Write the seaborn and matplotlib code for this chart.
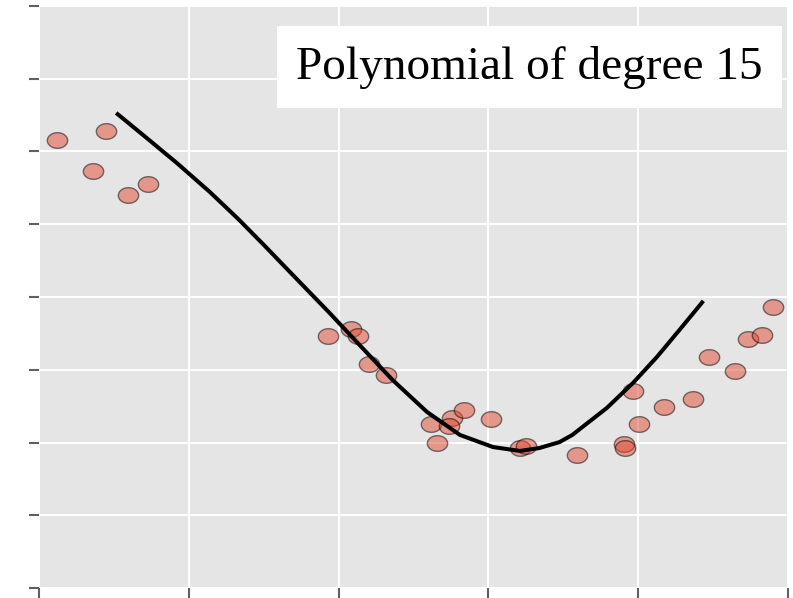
import numpy as np
import matplotlib
matplotlib.use("Agg")
import matplotlib.pyplot as plt
from matplotlib.path import Path
import seaborn as sns

# sample points
x_pts = [0.024, 0.072, 0.089, 0.119, 0.145, 0.386, 0.416, 0.426, 0.440, 0.463,
         0.523, 0.531, 0.551, 0.547, 0.568, 0.603, 0.642, 0.650, 0.718, 0.781,
         0.782, 0.793, 0.801, 0.834, 0.873, 0.894, 0.929, 0.946, 0.965, 0.980]
y_pts = [1.079, 0.866, 1.141, 0.701, 0.777, -0.268, -0.220, -0.268, -0.460, -0.536,
         -0.873, -1.003, -0.832, -0.887, -0.777, -0.838, -1.038, -1.024, -1.086, -1.010,
         -1.038, -0.646, -0.873, -0.756, -0.701, -0.412, -0.509, -0.289, -0.261, -0.069]

# fitted model curve
x_fit = [0.103, 0.139, 0.184, 0.228, 0.266, 0.299, 0.344, 0.388, 0.428, 0.472,
         0.518, 0.562, 0.606, 0.642, 0.668, 0.695, 0.712, 0.758, 0.793, 0.825,
         0.855, 0.887]
y_fit = [1.265, 1.113, 0.921, 0.722, 0.536, 0.364, 0.124, -0.110, -0.330, -0.570,
         -0.790, -0.948, -1.031, -1.058, -1.038, -0.997, -0.948, -0.763, -0.591, -0.412,
         -0.227, -0.027]

label = "Polynomial of degree 15"

sns.set_theme(style="darkgrid", rc={
    "axes.facecolor": "#E5E5E5",
    "grid.color": "white",
    "grid.linewidth": 1.4,
    "xtick.bottom": True,
    "ytick.left": True,
    "xtick.direction": "out",
    "ytick.direction": "out",
    "xtick.color": "#606060",
    "ytick.color": "#606060",
    "xtick.major.size": 7,
    "ytick.major.size": 7,
    "xtick.major.width": 1.5,
    "ytick.major.width": 1.5,
})
plt.rcParams["font.family"] = ["Liberation Serif", "DejaVu Serif"]

fig = plt.figure(figsize=(7.93, 5.98), dpi=100)
ax = fig.add_axes([0.0492, 0.0167, 0.9445, 0.9733])

# slightly squashed marker, like the source image
t = np.linspace(0, 2 * np.pi, 60)
ellipse = Path(np.column_stack([np.cos(t), 0.77 * np.sin(t)]), closed=True)

sns.scatterplot(x=x_pts, y=y_pts, ax=ax, marker=ellipse, s=215,
                color="#E24A33", alpha=0.5, edgecolor="black", linewidth=1.0,
                zorder=3)
sns.lineplot(x=x_fit, y=y_fit, ax=ax, color="black", linewidth=2.9,
             estimator=None, sort=False, zorder=4)
ax.lines[-1].set_solid_joinstyle("round")
ax.lines[-1].set_solid_capstyle("butt")

ax.set_xlim(0, 1)
ax.set_ylim(-2, 2)
ax.set_xticks(np.linspace(0, 1, 6))
ax.set_yticks(np.arange(-2, 2.01, 0.5))
ax.set_xticklabels([])
ax.set_yticklabels([])
for s in ax.spines.values():
    s.set_visible(False)

ax.text(0.655, 0.895, label, transform=ax.transAxes, ha="center", va="center",
        fontsize=34, color="black", zorder=5,
        bbox=dict(facecolor="white", edgecolor="none", pad=14))

fig.savefig("out.png", dpi=100)
